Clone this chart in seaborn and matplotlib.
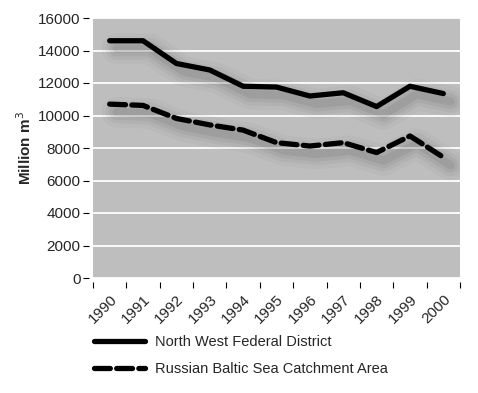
import numpy as np
import pandas as pd
import matplotlib
matplotlib.use("Agg")
import matplotlib.pyplot as plt
import matplotlib.transforms as mtransforms
from matplotlib.lines import Line2D
import seaborn as sns

years = [1990, 1991, 1992, 1993, 1994, 1995, 1996, 1997, 1998, 1999, 2000]
north_west = [14600, 14600, 13200, 12800, 11800, 11750, 11200, 11400, 10550, 11800, 11350]
baltic = [10700, 10620, 9820, 9420, 9100, 8330, 8120, 8330, 7720, 8740, 7430]
series_names = ["North West Federal District", "Russian Baltic Sea Catchment Area"]

df = pd.DataFrame({"pos": range(len(years)), "nw": north_west, "baltic": baltic})

sns.set_style("white")
plt.rcParams['font.family'] = ['Liberation Sans', 'DejaVu Sans']

fig = plt.figure(figsize=(4.78, 3.93), dpi=100)
ax = fig.add_axes([93 / 478, 1 - 278 / 393, 367 / 478, 260 / 393])
ax.set_facecolor('#bebebe')

# soft shadow under the lines, offset down-right
for col in ["nw", "baltic"]:
    for w, a in [(22, 0.04), (16, 0.06), (11, 0.08), (6, 0.1)]:
        off = mtransforms.offset_copy(ax.transData, fig=fig, x=7, y=-8, units='dots')
        ax.plot(df["pos"], df[col], color='#444444', lw=w, alpha=a,
                solid_capstyle='round', solid_joinstyle='round', transform=off, zorder=2)

sns.lineplot(data=df, x="pos", y="nw", ax=ax, color='black', lw=3.8,
             solid_capstyle='round', zorder=3)
sns.lineplot(data=df, x="pos", y="baltic", ax=ax, color='black', lw=3.8,
             zorder=3)
ax.lines[-1].set_dashes((3, 1.2))
ax.lines[-1].set_dash_capstyle('round')

ax.set_xlim(-0.5, len(years) - 0.5)
ax.set_ylim(0, 16000)
ax.set_yticks(np.arange(0, 16001, 2000))
ax.yaxis.grid(True, color='white', lw=1.3)
ax.set_axisbelow(True)
for s in ax.spines.values():
    s.set_visible(False)
# gap between tick marks and plot area
ax.spines['left'].set_position(('outward', 3))
ax.spines['bottom'].set_position(('outward', 3))

ax.set_xticks(np.arange(-0.5, len(years), 1))
ax.set_xticklabels([])
ax.set_xticks(range(len(years)), minor=True)
ax.set_xticklabels([str(y) for y in years], minor=True, rotation=45,
                   ha='right', va='top', rotation_mode='anchor', fontsize=11)
ax.tick_params(axis='x', which='major', length=4, width=0.8, color='black',
               direction='out', pad=0, bottom=True)
ax.tick_params(axis='x', which='minor', length=0, pad=7, bottom=True)
ax.tick_params(axis='y', length=4, width=0.8, color='black', labelsize=11, pad=2, left=True)

ax.set_xlabel("")
ax.set_ylabel("Million m$^3$", fontsize=11, fontweight='bold', labelpad=3)

handles = [Line2D([], [], color='black', lw=3.8, solid_capstyle='round'),
           Line2D([], [], color='black', lw=3.8, dashes=(3, 1.2), dash_capstyle='round')]
fig.legend(handles, series_names, loc='upper left', bbox_to_anchor=(81 / 478, 1 - 322 / 393),
           frameon=False, fontsize=10.5, handlelength=3.5, handletextpad=0.7,
           labelspacing=0.9)

fig.savefig("out.png", dpi=100)
